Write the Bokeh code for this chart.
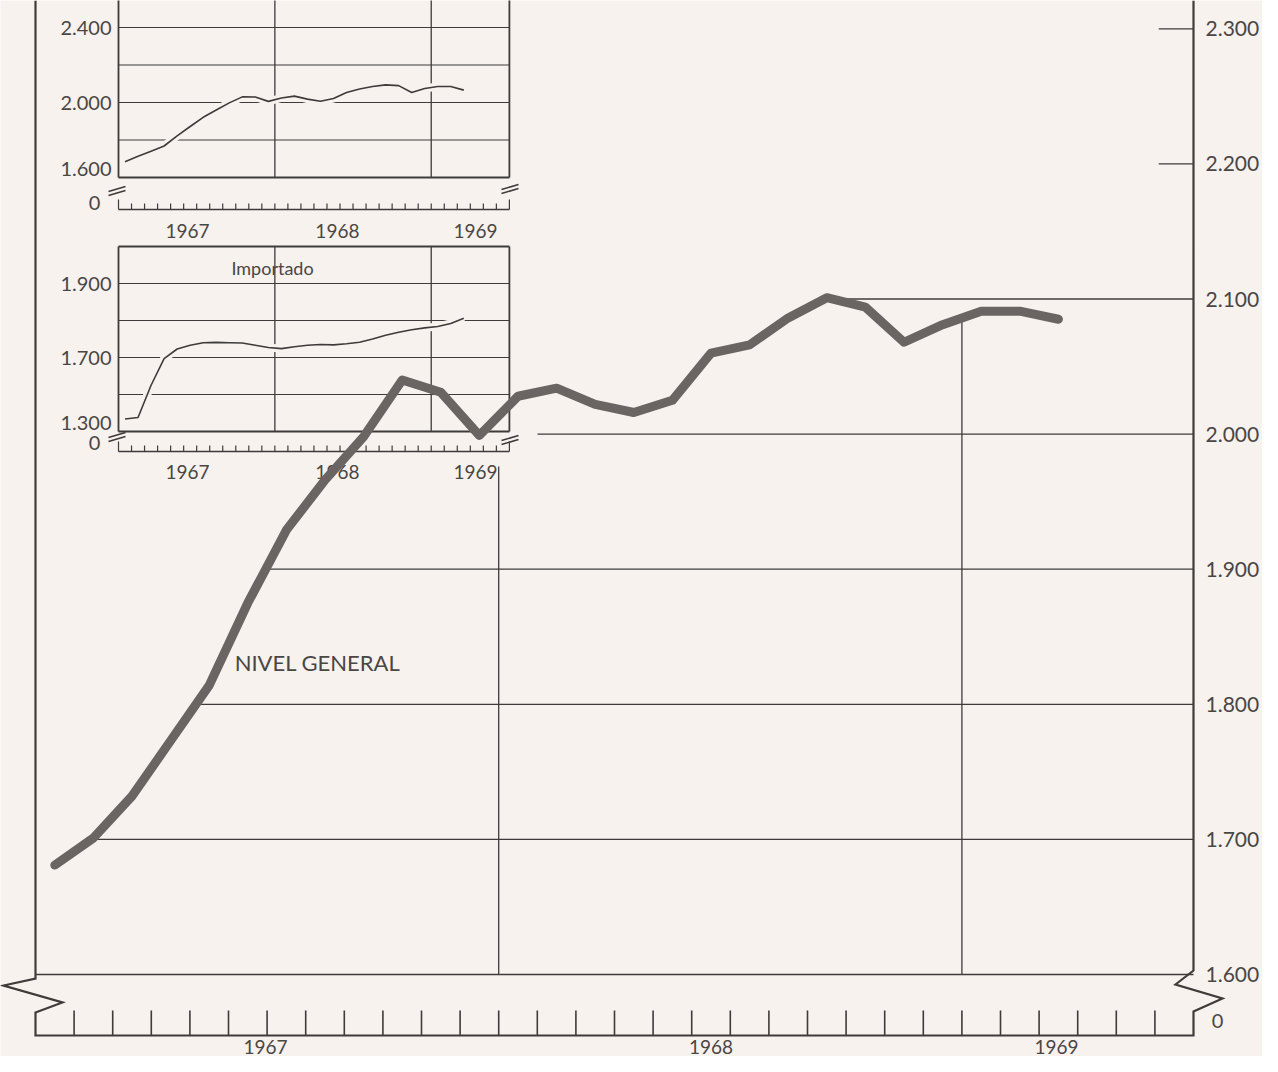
import numpy as np
from bokeh.plotting import figure
from bokeh.models import Range1d, ColumnDataSource
from bokeh.core.properties import value
from bokeh.embed import file_html
from bokeh.resources import INLINE

# ----------------- data -----------------
month_index = list(range(27))   # 0 = enero 1967 ... 26 = marzo 1969
nivel_general = [1681, 1701, 1732, 1773, 1814, 1875, 1929, 1966, 1998, 2040, 2031, 1999,
                 2028, 2034, 2022, 2016, 2025, 2060, 2066, 2086, 2101, 2094, 2068, 2081,
                 2091, 2091, 2085]
nacional = [1684, 1713, 1740, 1768, 1822, 1872, 1921, 1960, 1998, 2030, 2029, 2006,
            2024, 2034, 2018, 2007, 2021, 2053, 2072, 2085, 2094, 2090, 2053, 2075,
            2085, 2085, 2066]
importado = [1534, 1538, 1625, 1697, 1723, 1733, 1740, 1741, 1740, 1739, 1733, 1727,
             1724, 1729, 1733, 1735, 1734, 1737, 1741, 1750, 1760, 1768, 1775, 1780,
             1784, 1792, 1806]

main_tick_values = [1600, 1700, 1800, 1900, 2000, 2100, 2200, 2300]
main_tick_labels = ["1.600", "1.700", "1.800", "1.900", "2.000", "2.100", "2.200", "2.300"]
main_grid_full = [1600, 1700, 1800, 1900, 2000, 2100]
main_grid_short = [2200, 2300]
year_labels = ["1967", "1968", "1969"]
main_year_pos = [5.96, 17.5, 26.45]
inset_year_pos = [5.3, 16.8, 27.4]
year_starts = [12, 24]
n_months_axis = 30

ins1_tick_values = [2400, 2000, 1600]
ins1_tick_labels = ["2.400", "2.000", "1.600"]
ins1_grid = [1800, 2000, 2200, 2400]
ins1_base, ins1_top = 1600, 2600
ins2_tick_values = [1900, 1700, 1500]
ins2_tick_labels = ["1.900", "1.700", "1.300"]
ins2_grid = [1600, 1700, 1800, 1900]
ins2_base, ins2_top = 1500, 2000
ins2_title = "Importado"
main_title = "NIVEL GENERAL"

# ----------------- layout / style -----------------
W, H, OFF = 1262, 1056, 0
BG = "#f7f2ee"
INK = "#3e3b3a"
TXT = "#4a4645"
CURVE = "#6a6563"
FONT = value("Lato")


def xrange_for(X0, k):
    return Range1d((OFF - X0) / k, (OFF + W - X0) / k)


def yrange_for(Y0, v0, k):
    return Range1d(v0 + (Y0 - (OFF + H)) / k, v0 + (Y0 - OFF) / k)


p = figure(width=W, height=H,
           x_range=xrange_for(35, 38.6), y_range=yrange_for(974, 1600, 1.351),
           x_axis_location=None, y_axis_location=None,
           toolbar_location=None, output_backend="svg",
           min_border=0, background_fill_color=BG, border_fill_color=BG,
           outline_line_color=None)
p.grid.visible = False
p.extra_x_ranges = {"sx": Range1d(OFF, OFF + W), "ix": xrange_for(118, 13.03)}
p.extra_y_ranges = {"sy": Range1d(OFF + H, OFF),
                    "i1y": yrange_for(177, 1600, 0.1875),
                    "i2y": yrange_for(394, 1600, 0.37)}

# ----------------- main chart grid -----------------
xm = np.array(month_index) + 0.5
yv = np.array(nivel_general, dtype=float)


def first_reach(level):
    idx = np.nonzero(yv >= level)[0]
    i = idx[0]
    if i == 0:
        return 0.0
    return xm[i - 1] + (level - yv[i - 1]) / (yv[i] - yv[i - 1]) * (xm[i] - xm[i - 1])


gx0 = [first_reach(l) for l in main_grid_full]
p.segment(x0=gx0, y0=main_grid_full, x1=[n_months_axis] * len(gx0), y1=main_grid_full,
          line_color=INK, line_width=1.3)
p.segment(x0=[n_months_axis - 0.9] * 2, y0=main_grid_short, x1=[n_months_axis] * 2,
          y1=main_grid_short, line_color=INK, line_width=1.3)
vtop = np.interp(year_starts, xm, yv)
p.segment(x0=year_starts, y0=[1600] * 2, x1=year_starts, y1=list(vtop),
          line_color=INK, line_width=1.3)

# mask behind the "Importado" inset
p.quad(left=[40], right=[537], top=[240], bottom=[466], x_range_name="sx", y_range_name="sy",
       fill_color=BG, line_color=None)

# frame with axis breaks (screen coordinates)
p.line(x=[35, 35, 3, 62, 35, 35, 1193, 1193, 1222, 1175, 1193, 1193],
       y=[0, 978, 985, 1002, 1012, 1035, 1035, 1011, 998, 984, 970, 0],
       x_range_name="sx", y_range_name="sy", line_color=INK, line_width=2.2,
       line_join="miter")
mt = list(range(1, n_months_axis))
p.segment(x0=mt, x1=mt, y0=[1035] * len(mt), y1=[1010] * len(mt), y_range_name="sy",
          line_color=INK, line_width=1.6)

p.text(x=[1205] * len(main_tick_values), y=main_tick_values, text=main_tick_labels,
       x_range_name="sx", text_font=FONT, text_font_size="21px", text_color=TXT,
       text_align="left", text_baseline="middle")
p.text(x=[1217], y=[1020], text=["0"], x_range_name="sx", y_range_name="sy",
       text_font=FONT, text_font_size="20px", text_color=TXT,
       text_align="center", text_baseline="middle")
p.text(x=main_year_pos, y=[1046] * 3, text=year_labels, y_range_name="sy",
       text_font=FONT, text_font_size="19px", text_color=TXT,
       text_align="center", text_baseline="middle")
p.text(x=[317], y=[662], text=[main_title], x_range_name="sx", y_range_name="sy",
       text_font=FONT, text_font_size="22px", text_color=TXT,
       text_align="center", text_baseline="middle")


# ----------------- insets -----------------
def draw_inset(yname, series, grid, base, top, tick_vals, tick_labels, axis_y, zero_y,
               year_y, breaks, top_frame):
    kw = dict(x_range_name="ix", y_range_name=yname)
    vx = [0, 12, 24, n_months_axis]
    p.segment(x0=vx, x1=vx, y0=[base] * 4, y1=[top] * 4, line_color=INK,
              line_width=[1.8, 1.3, 1.3, 1.8], **kw)
    p.segment(x0=[0] * len(grid), x1=[n_months_axis] * len(grid), y0=grid, y1=grid,
              line_color=INK, line_width=1.2, **kw)
    p.segment(x0=[0], x1=[n_months_axis], y0=[base], y1=[base], line_color=INK,
              line_width=1.8, **kw)
    if top_frame:
        p.segment(x0=[0], x1=[n_months_axis], y0=[top], y1=[top], line_color=INK,
                  line_width=2.0, **kw)
    # curve with halo
    p.line(xm, series, line_color=BG, line_width=8, **kw)
    p.line(xm, series, line_color=INK, line_width=1.6, line_join="round", **kw)
    # tick axis
    ax = dict(x_range_name="ix", y_range_name="sy")
    p.segment(x0=[0], x1=[n_months_axis], y0=[axis_y], y1=[axis_y], line_color=INK,
              line_width=1.6, **ax)
    tk = list(range(0, n_months_axis + 1))
    tlen = [10 if t in (0, n_months_axis) else 6 for t in tk]
    p.segment(x0=tk, x1=tk, y0=[axis_y] * len(tk), y1=[axis_y - l for l in tlen],
              line_color=INK, line_width=1.2, **ax)
    # break marks
    p.multi_line(xs=[b[0] for b in breaks], ys=[b[1] for b in breaks],
                 x_range_name="sx", y_range_name="sy", line_color=INK, line_width=1.6)
    src = ColumnDataSource(dict(x=[111] * len(tick_vals), y=tick_vals, t=tick_labels,
                                yo=[0] * (len(tick_vals) - 1) + [-9]))
    p.text(x="x", y="y", text="t", y_offset="yo", source=src, x_range_name="sx",
           y_range_name=yname, text_font=FONT, text_font_size="20px", text_color=TXT,
           text_align="right", text_baseline="middle")
    p.text(x=[94], y=[zero_y], text=["0"], x_range_name="sx", y_range_name="sy",
           text_font=FONT, text_font_size="20px", text_color=TXT,
           text_align="center", text_baseline="middle")
    p.text(x=inset_year_pos, y=[year_y] * 3, text=year_labels, **ax,
           text_font=FONT, text_font_size="19px", text_color=TXT,
           text_align="center", text_baseline="middle")


def brk(yl, yr):
    return [([108, 125], [yl + 4, yl - 1]), ([108, 125], [yl + 8, yl + 3]),
            ([501, 518], [yr + 4, yr - 1]), ([501, 518], [yr + 8, yr + 3])]


draw_inset("i1y", nacional, ins1_grid, ins1_base, ins1_top, ins1_tick_values,
           ins1_tick_labels, 209, 202, 230, brk(187, 185), False)
draw_inset("i2y", importado, ins2_grid, ins2_base, ins2_top, ins2_tick_values,
           ins2_tick_labels, 451, 442, 471, brk(433, 436), True)
p.text(x=[272], y=[267], text=[ins2_title], x_range_name="sx", y_range_name="sy",
       text_font=FONT, text_font_size="18px", text_color=TXT,
       text_align="center", text_baseline="middle")

# ----------------- main curve -----------------
p.line(xm, nivel_general, line_color=CURVE, line_width=9, line_join="round",
       line_cap="round")

open("out.html", "w").write(file_html(p, INLINE))
